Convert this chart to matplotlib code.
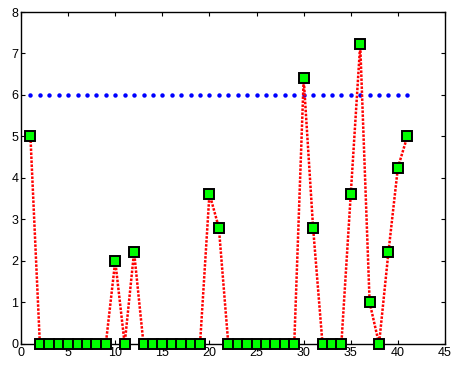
import matplotlib
matplotlib.use("Agg")
import matplotlib.pyplot as plt
import numpy as np

x = list(range(1, 42))
values = [5, 0, 0, 0, 0, 0, 0, 0, 0, 2.0, 0, 2.22, 0, 0, 0, 0, 0, 0, 0, 3.62, 2.8,
          0, 0, 0, 0, 0, 0, 0, 0, 6.4, 2.8, 0, 0, 0, 3.62, 7.22, 1.0, 0, 2.22, 4.25, 5.0]
threshold = [6] * len(x)
xticks = [0, 5, 10, 15, 20, 25, 30, 35, 40, 45]
yticks = [0, 1, 2, 3, 4, 5, 6, 7, 8]

plt.rcParams['font.family'] = ['Liberation Sans', 'DejaVu Sans']
fig = plt.figure(figsize=(4.51, 3.67), dpi=100)
ax = fig.add_axes([0.0466, 0.0627, 0.9401, 0.9046])

ax.plot(x, threshold, linestyle='none', marker='o', markersize=3.2, color='#0000ff',
        markeredgewidth=0, clip_on=False)
ax.plot(x, values, linestyle=(0, (1, 0.6)), color='#ff0000', linewidth=1.8,
        marker='s', markersize=7.8, markerfacecolor='#00ff00', markeredgecolor='black',
        markeredgewidth=1.4, clip_on=False, zorder=3)

ax.set_xlim(0, 45)
ax.set_ylim(0, 8)
ax.set_xticks(xticks)
ax.set_yticks(yticks)
ax.tick_params(direction='in', top=True, right=True, labelsize=9, length=3,
               width=0.8, pad=2)
for s in ax.spines.values():
    s.set_linewidth(1.0)
fig.savefig("out.png", dpi=100)
